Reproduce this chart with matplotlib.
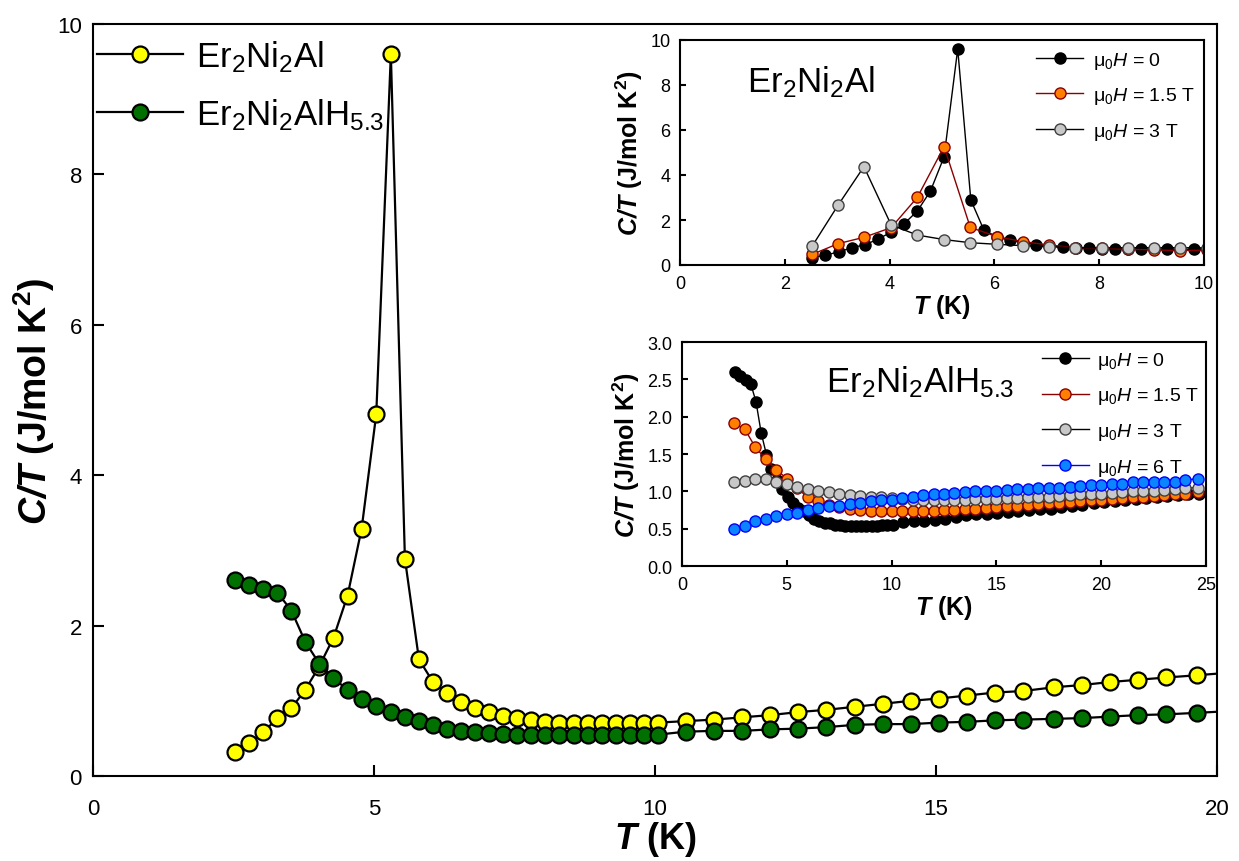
import matplotlib
matplotlib.use("Agg")
import matplotlib.pyplot as plt

plt.rcParams['font.family'] = ['Liberation Sans', 'DejaVu Sans']
plt.rcParams['mathtext.fontset'] = 'custom'
plt.rcParams['mathtext.rm'] = 'Liberation Sans'
plt.rcParams['mathtext.it'] = 'Liberation Sans:italic'
plt.rcParams['mathtext.bf'] = 'Liberation Sans:bold'
plt.rcParams['mathtext.bfit'] = 'Liberation Sans:italic:bold'

# ---- data: Er2Ni2Al, mu0H = 0 (main yellow / inset 1 black)
T_al = [2.52, 2.77, 3.03, 3.28, 3.53, 3.78, 4.02, 4.28, 4.53, 4.78,
        5.04, 5.30, 5.55, 5.80, 6.05, 6.30, 6.55, 6.80, 7.05, 7.30,
        7.55, 7.80, 8.05, 8.30, 8.55, 8.80, 9.05, 9.30, 9.55, 9.80,
        10.05, 10.55, 11.05, 11.55, 12.05, 12.55, 13.05, 13.55, 14.05, 14.55,
        15.05, 15.55, 16.05, 16.55, 17.10, 17.60, 18.10, 18.60, 19.10, 19.65, 20.15]
CT_al = [0.32, 0.44, 0.58, 0.77, 0.90, 1.15, 1.45, 1.84, 2.40, 3.29,
         4.81, 9.60, 2.89, 1.55, 1.25, 1.10, 0.99, 0.91, 0.85, 0.80,
         0.77, 0.74, 0.72, 0.71, 0.70, 0.70, 0.70, 0.70, 0.70, 0.70,
         0.71, 0.73, 0.75, 0.78, 0.81, 0.85, 0.88, 0.92, 0.96, 1.00,
         1.03, 1.07, 1.11, 1.13, 1.18, 1.21, 1.25, 1.28, 1.31, 1.34, 1.37]

# Er2Ni2Al, mu0H = 1.5 T and 3 T
T_al_h = [2.52, 3.02, 3.51, 4.03, 4.53, 5.04, 5.54, 6.05, 6.54, 7.04,
          7.53, 8.05, 8.55, 9.05, 9.54, 10.05]
CT_al_15 = [0.47, 0.95, 1.23, 1.66, 3.01, 5.26, 1.67, 1.26, 1.04, 0.89,
            0.77, 0.74, 0.70, 0.67, 0.64, 0.66]
CT_al_3 = [0.83, 2.67, 4.37, 1.78, 1.33, 1.13, 0.99, 0.92, 0.86, 0.81,
           0.77, 0.76, 0.77, 0.77, 0.77, 0.76]

# ---- data: Er2Ni2AlH5.3, mu0H = 0 (main green / inset 2 black)
T_hy = [2.52, 2.77, 3.03, 3.28, 3.53, 3.78, 4.03, 4.27, 4.53, 4.78,
        5.04, 5.30, 5.55, 5.80, 6.05, 6.30, 6.55, 6.80, 7.05, 7.30,
        7.55, 7.80, 8.05, 8.30, 8.55, 8.80, 9.05, 9.30, 9.55, 9.80,
        10.05, 10.55, 11.05, 11.55, 12.05, 12.55, 13.05, 13.55, 14.05, 14.55,
        15.05, 15.55, 16.05, 16.55, 17.10, 17.60, 18.10, 18.60, 19.10, 19.65,
        20.15, 20.65, 21.15, 21.65, 22.15, 22.65, 23.15, 23.65, 24.15, 24.65]
CT_hy = [2.60, 2.54, 2.49, 2.44, 2.20, 1.78, 1.49, 1.30, 1.15, 1.03,
         0.93, 0.85, 0.78, 0.73, 0.68, 0.63, 0.60, 0.58, 0.57, 0.555,
         0.55, 0.54, 0.54, 0.54, 0.54, 0.54, 0.54, 0.54, 0.545, 0.545,
         0.55, 0.59, 0.60, 0.60, 0.62, 0.63, 0.65, 0.68, 0.69, 0.69,
         0.71, 0.72, 0.74, 0.75, 0.76, 0.77, 0.79, 0.81, 0.82, 0.84,
         0.86, 0.87, 0.88, 0.90, 0.91, 0.93, 0.94, 0.95, 0.96, 0.97]

# Er2Ni2AlH5.3 in field (0.5 K steps)
T_hy_h = [2.5, 3.0, 3.5, 4.0, 4.5, 5.0, 5.5, 6.0, 6.5, 7.0,
          7.5, 8.0, 8.5, 9.0, 9.5, 10.0, 10.5, 11.0, 11.5, 12.0,
          12.5, 13.0, 13.5, 14.0, 14.5, 15.0, 15.5, 16.0, 16.5, 17.0,
          17.5, 18.0, 18.5, 19.0, 19.5, 20.0, 20.5, 21.0, 21.5, 22.0,
          22.5, 23.0, 23.5, 24.0, 24.6]
CT_hy_15 = [1.91, 1.83, 1.59, 1.43, 1.29, 1.17, 1.04, 0.92, 0.87, 0.82,
            0.79, 0.77, 0.75, 0.74, 0.73, 0.73, 0.73, 0.73, 0.74, 0.74,
            0.75, 0.75, 0.76, 0.77, 0.78, 0.79, 0.80, 0.81, 0.82, 0.83,
            0.84, 0.85, 0.86, 0.87, 0.88, 0.88, 0.90, 0.91, 0.92, 0.93,
            0.94, 0.95, 0.96, 0.97, 0.99]
CT_hy_3 = [1.13, 1.14, 1.16, 1.16, 1.13, 1.10, 1.06, 1.03, 1.01, 0.99,
           0.97, 0.95, 0.94, 0.93, 0.92, 0.91, 0.90, 0.89, 0.89, 0.89,
           0.89, 0.89, 0.89, 0.90, 0.90, 0.90, 0.91, 0.91, 0.92, 0.93,
           0.93, 0.94, 0.95, 0.96, 0.96, 0.97, 0.98, 0.99, 1.00, 1.00,
           1.01, 1.02, 1.03, 1.04, 1.05]
CT_hy_6 = [0.49, 0.54, 0.60, 0.63, 0.67, 0.69, 0.71, 0.75, 0.78, 0.80,
           0.81, 0.83, 0.85, 0.87, 0.88, 0.89, 0.91, 0.92, 0.95, 0.96,
           0.97, 0.98, 0.99, 1.00, 1.00, 1.01, 1.02, 1.03, 1.03, 1.04,
           1.04, 1.05, 1.06, 1.07, 1.08, 1.09, 1.10, 1.10, 1.12, 1.12,
           1.12, 1.13, 1.13, 1.15, 1.17]

lab_al = r'Er$_2$Ni$_2$Al'
lab_hy = r'Er$_2$Ni$_2$AlH$_{5.3}$'
lab_h0 = r'μ$_0$$\mathit{H}$ = 0'
lab_h15 = r'μ$_0$$\mathit{H}$ = 1.5 T'
lab_h3 = r'μ$_0$$\mathit{H}$ = 3 T'
lab_h6 = r'μ$_0$$\mathit{H}$ = 6 T'
ylab = r'$\mathbfit{C/T}$ (J/mol K$^{\mathbf{2}}$)'
xlab = r'$\mathbfit{T}$ (K)'

W, H = 1239, 862
fig = plt.figure(figsize=(W / 100, H / 100), dpi=100)


def frac(left, top, right, bottom):
    return [left / W, 1 - bottom / H, (right - left) / W, (bottom - top) / H]


def style(ax, size, length):
    for s in ax.spines.values():
        s.set_linewidth(1.5)
    ax.tick_params(direction='in', length=length, width=1.5, labelsize=size,
                   top=False, right=False, pad=8)


# ---- main axes
ax = fig.add_axes(frac(93, 25, 1217, 777))
ax.plot(T_al, CT_al, '-o', color='black', lw=1.6, ms=11.5, mfc='#FFFF00',
        mec='black', mew=1.6, label=lab_al, zorder=3)
ax.plot(T_hy, CT_hy, '-o', color='black', lw=1.6, ms=11.5, mfc='#007000',
        mec='black', mew=1.6, label=lab_hy, zorder=4)
ax.set_xlim(0, 20)
ax.set_ylim(0, 10)
ax.set_xticks([0, 5, 10, 15, 20])
ax.set_yticks([0, 2, 4, 6, 8, 10])
style(ax, 16, 8)
ax.tick_params(axis='x', pad=16)
ax.set_xlabel(xlab, fontsize=26, fontweight='bold', labelpad=0)
ax.set_ylabel(ylab, fontsize=27, fontweight='bold', labelpad=0)
ax.legend(loc='upper left', bbox_to_anchor=(-0.009, 1.0), frameon=False,
          fontsize=25, handlelength=2.45, handletextpad=0.4, labelspacing=0.62,
          borderaxespad=0.0, borderpad=0.42)

# ---- inset 1: Er2Ni2Al
a1 = fig.add_axes(frac(680, 41, 1204, 266))
a1.plot(T_al, CT_al, '-o', color='black', lw=1, ms=8, mfc='black', mec='black',
        mew=1, label=lab_h0)
a1.plot(T_al_h, CT_al_15, '-o', color='#8B0000', lw=1, ms=8, mfc='#FF8000',
        mec='#8B0000', mew=1, label=lab_h15)
a1.plot(T_al_h, CT_al_3, '-o', color='black', lw=1, ms=8, mfc='#C8C8C8',
        mec='#404040', mew=1, label=lab_h3)
a1.set_xlim(0, 10)
a1.set_ylim(0, 10)
a1.set_xticks([0, 2, 4, 6, 8, 10])
a1.set_yticks([0, 2, 4, 6, 8, 10])
style(a1, 13, 4)
a1.tick_params(pad=7)
a1.set_xlabel(xlab, fontsize=18, fontweight='bold', labelpad=0)
a1.set_ylabel(ylab, fontsize=18, fontweight='bold', labelpad=4)
a1.text(0.128, 0.773, lab_al, transform=a1.transAxes, fontsize=25, ha='left', va='baseline')
a1.legend(loc='upper right', frameon=False, fontsize=14, handlelength=2.4,
          handletextpad=0.5, labelspacing=0.75, borderaxespad=0.1)

# ---- inset 2: Er2Ni2AlH5.3
a2 = fig.add_axes(frac(682, 343, 1206, 567))
a2.plot(T_hy, CT_hy, '-o', color='black', lw=1, ms=8, mfc='black', mec='black',
        mew=1, label=lab_h0)
a2.plot(T_hy_h, CT_hy_15, '-o', color='#8B0000', lw=1, ms=8, mfc='#FF8000',
        mec='#8B0000', mew=1, label=lab_h15)
a2.plot(T_hy_h, CT_hy_3, '-o', color='black', lw=1, ms=8, mfc='#C8C8C8',
        mec='#404040', mew=1, label=lab_h3)
a2.plot(T_hy_h, CT_hy_6, '-o', color='#0000FF', lw=1, ms=8, mfc='#0A84FF',
        mec='#0000FF', mew=1, label=lab_h6)
a2.set_xlim(0, 25)
a2.set_ylim(0, 3)
a2.set_xticks([0, 5, 10, 15, 20, 25])
a2.set_yticks([0.0, 0.5, 1.0, 1.5, 2.0, 2.5, 3.0])
a2.set_yticklabels(['0.0', '0.5', '1.0', '1.5', '2.0', '2.5', '3.0'])
style(a2, 13, 4)
a2.tick_params(pad=7)
a2.set_xlabel(xlab, fontsize=18, fontweight='bold', labelpad=0)
a2.set_ylabel(ylab, fontsize=18, fontweight='bold', labelpad=4)
a2.text(0.275, 0.78, lab_hy, transform=a2.transAxes, fontsize=25, ha='left', va='baseline')
a2.legend(loc='upper right', frameon=False, fontsize=14, handlelength=2.4,
          handletextpad=0.4, labelspacing=0.75, borderaxespad=0.0)

fig.savefig('out.png', dpi=100)
